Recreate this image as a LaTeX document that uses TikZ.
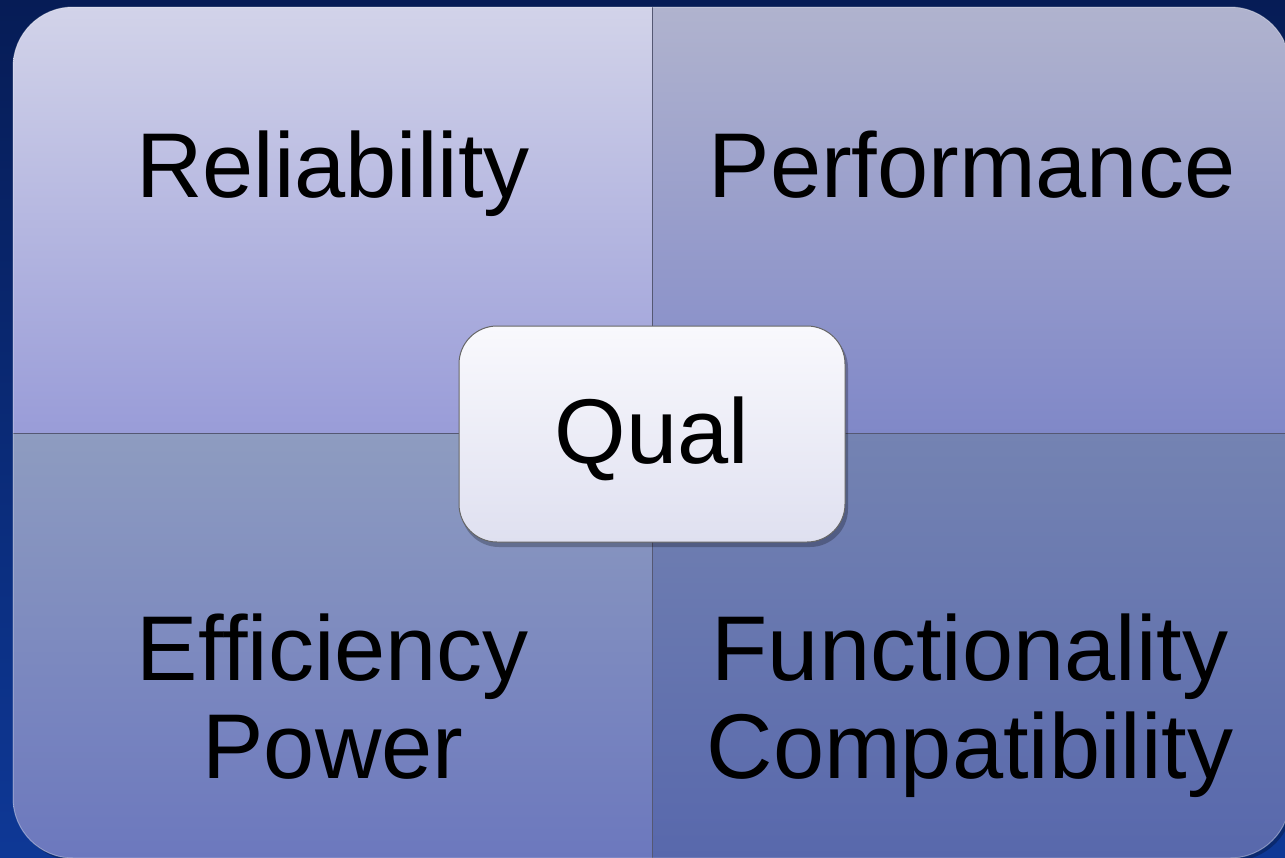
\documentclass[tikz,border=0pt]{standalone}
\usepackage{fontspec}
\setmainfont{Liberation Sans}
\definecolor{bgtop}{RGB}{6,28,86}
\definecolor{bgbot}{RGB}{14,56,150}
\definecolor{tlA}{RGB}{210,211,233}
\definecolor{tlB}{RGB}{153,156,216}
\definecolor{trA}{RGB}{176,179,206}
\definecolor{trB}{RGB}{128,136,200}
\definecolor{blA}{RGB}{142,156,192}
\definecolor{blB}{RGB}{108,120,190}
\definecolor{brA}{RGB}{116,131,178}
\definecolor{brB}{RGB}{88,104,172}
\definecolor{boxA}{RGB}{249,249,253}
\definecolor{boxB}{RGB}{223,224,240}
\definecolor{divider}{RGB}{85,88,115}
\tikzset{
  label/.style={font=\fontsize{92}{98}\selectfont, text=black, anchor=base, inner sep=0pt, align=center},
}
\begin{document}
\begin{tikzpicture}[x=1pt,y=-1pt]
\useasboundingbox (0,0) rectangle (1285,857);
\shade[top color=bgtop, bottom color=bgbot] (0,0) rectangle (1285,857);
% outer shadow
\fill[black, opacity=0.25, rounded corners=60] (16,11) rectangle (1293,861);
\begin{scope}
\clip[rounded corners=60] (13,7) rectangle (1290,858);
\shade[top color=tlA, bottom color=tlB] (13,7) rectangle (652,433);
\shade[top color=trA, bottom color=trB] (652,7) rectangle (1290,433);
\shade[top color=blA, bottom color=blB] (13,433) rectangle (652,858);
\shade[top color=brA, bottom color=brB] (652,433) rectangle (1290,858);
\draw[divider, line width=1] (652,7) -- (652,858);
\draw[divider, line width=1] (13,433) -- (1290,433);
\end{scope}
\draw[white, opacity=0.35, line width=1, rounded corners=60] (13,7) rectangle (1290,858);
% center box
\fill[black, opacity=0.25, rounded corners=38] (461,330) rectangle (848,547);
\shade[top color=boxA, bottom color=boxB, rounded corners=38] (459,326) rectangle (845,542);
\draw[gray!80!black, line width=1, rounded corners=38] (459,326) rectangle (845,542);
\node[label] (rel) at (333,197) {Reliability};
\node[label] (perf) at (972,197) {Performance};
\node[label] (qual) at (652,463) {Qual};
\node[label] (eff) at (333,680) {Efficiency};
\node[label] (pow) at (333,778) {Power};
\node[label] (func) at (970,680) {Functionality};
\node[label] (comp) at (970,778) {Compatibility};
\end{tikzpicture}
\end{document}
